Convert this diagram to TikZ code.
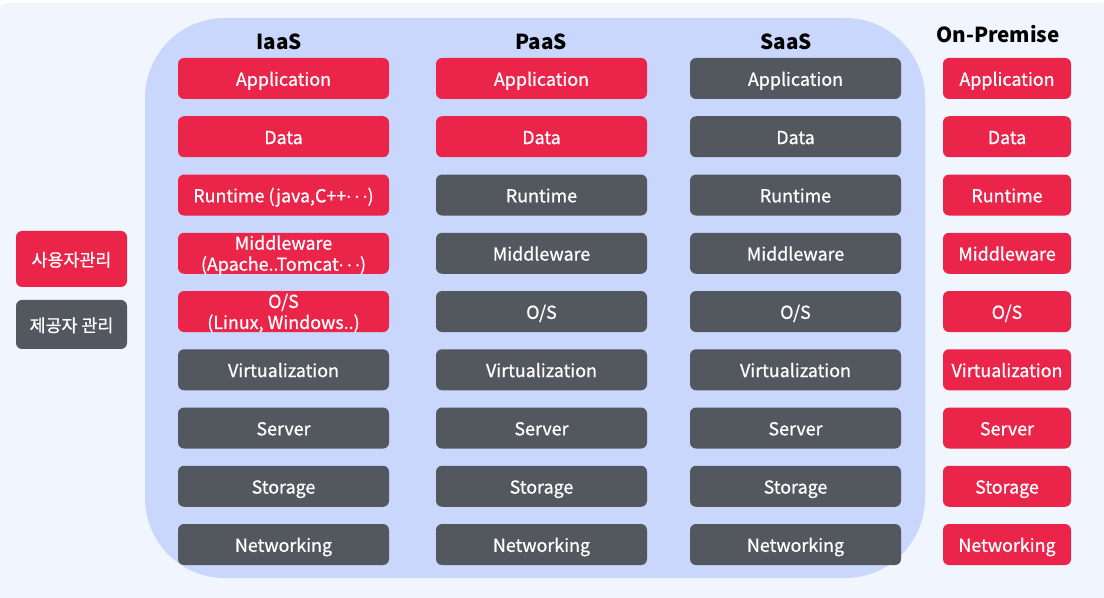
\documentclass[tikz,border=0pt]{standalone}
\usepackage{fontspec}
\setmainfont{Noto Sans CJK KR}
\newfontfamily\boxfont{Noto Sans CJK KR}[FakeBold=0.8]
\usetikzlibrary{positioning}
\definecolor{usr}{HTML}{EB2449}
\definecolor{prv}{HTML}{53575E}
\definecolor{cloud}{HTML}{C8D7FB}
\definecolor{page}{HTML}{F0F5FE}
\newcommand{\middots}{\raisebox{0.25em}{.\kern0.18em.\kern0.18em.}}
\tikzset{
    %Define style for boxes
    user/.style={
        rectangle,
        rounded corners=4.5pt,
        fill=usr,
        text=white,
        minimum width=158.25pt,
        minimum height=30.75pt,
        inner sep=0pt,
        outer sep=0pt,
        text height=12.5pt,
        text depth=1.5pt,
        align=center,
        font=\boxfont\fontsize{13.4}{15.75}\selectfont
    },
    provider/.style={
        user,
        fill=prv
    },
    %Define style for column titles
    coltitle/.style={
        text=black,
        font=\bfseries\fontsize{15.5}{18}\selectfont
    }
}

\begin{document}
\begin{tikzpicture}[x=0.75pt,y=-0.75pt,node distance=12.94pt,
        narrow/.style={minimum width=96pt},
        twoline/.style={text height=28.2pt,text depth=2pt},
        legend/.style={minimum width=83.25pt,font=\boxfont\fontsize{13}{15}\selectfont}]
    \useasboundingbox (0,0) rectangle (1104,598);
    \fill[white] (0,0) rectangle (1104,598);
    \fill[page,rounded corners=6pt] (0,3) rectangle (1110,610);
    \fill[cloud,rounded corners=60pt] (145,18) rectangle (925,578);
    % titles
    \node[coltitle] (h1) at (279,42) {IaaS};
    \node[coltitle] (h2) at (541,42) {PaaS};
    \node[coltitle] (h3) at (786,42) {SaaS};
    \node[coltitle] (h4) at (998,34) {On-Premise};
    % IaaS
    \node[user] (i1) at (283.5,78.5) {Application};
    \node[user, below=of i1] (i2) {Data};
    \node[user, below=of i2] (i3) {Runtime (java,C++\middots)};
    \node[user, twoline, below=of i3] (i4) {Middleware\\(Apache..Tomcat\middots)};
    \node[user, twoline, below=of i4] (i5) {O/S\\(Linux, Windows..)};
    \node[provider, below=of i5] (i6) {Virtualization};
    \node[provider, below=of i6] (i7) {Server};
    \node[provider, below=of i7] (i8) {Storage};
    \node[provider, below=of i8] (i9) {Networking};
    % PaaS
    \node[user] (p1) at (541.5,78.5) {Application};
    \node[user, below=of p1] (p2) {Data};
    \node[provider, below=of p2] (p3) {Runtime};
    \node[provider, below=of p3] (p4) {Middleware};
    \node[provider, below=of p4] (p5) {O/S};
    \node[provider, below=of p5] (p6) {Virtualization};
    \node[provider, below=of p6] (p7) {Server};
    \node[provider, below=of p7] (p8) {Storage};
    \node[provider, below=of p8] (p9) {Networking};
    % SaaS
    \node[provider] (s1) at (795.5,78.5) {Application};
    \node[provider, below=of s1] (s2) {Data};
    \node[provider, below=of s2] (s3) {Runtime};
    \node[provider, below=of s3] (s4) {Middleware};
    \node[provider, below=of s4] (s5) {O/S};
    \node[provider, below=of s5] (s6) {Virtualization};
    \node[provider, below=of s6] (s7) {Server};
    \node[provider, below=of s7] (s8) {Storage};
    \node[provider, below=of s8] (s9) {Networking};
    % On-Premise
    \node[user, narrow] (o1) at (1007,78.5) {Application};
    \node[user, narrow, below=of o1] (o2) {Data};
    \node[user, narrow, below=of o2] (o3) {Runtime};
    \node[user, narrow, below=of o3] (o4) {Middleware};
    \node[user, narrow, below=of o4] (o5) {O/S};
    \node[user, narrow, below=of o5] (o6) {Virtualization};
    \node[user, narrow, below=of o6] (o7) {Server};
    \node[user, narrow, below=of o7] (o8) {Storage};
    \node[user, narrow, below=of o8] (o9) {Networking};
    % legend
    \node[user, legend, minimum height=42pt] (l1) at (71.5,259) {사용자관리};
    \node[provider, legend, minimum height=36.75pt] (l2) at (71.5,324.5) {제공자 관리};
\end{tikzpicture}
\end{document}
